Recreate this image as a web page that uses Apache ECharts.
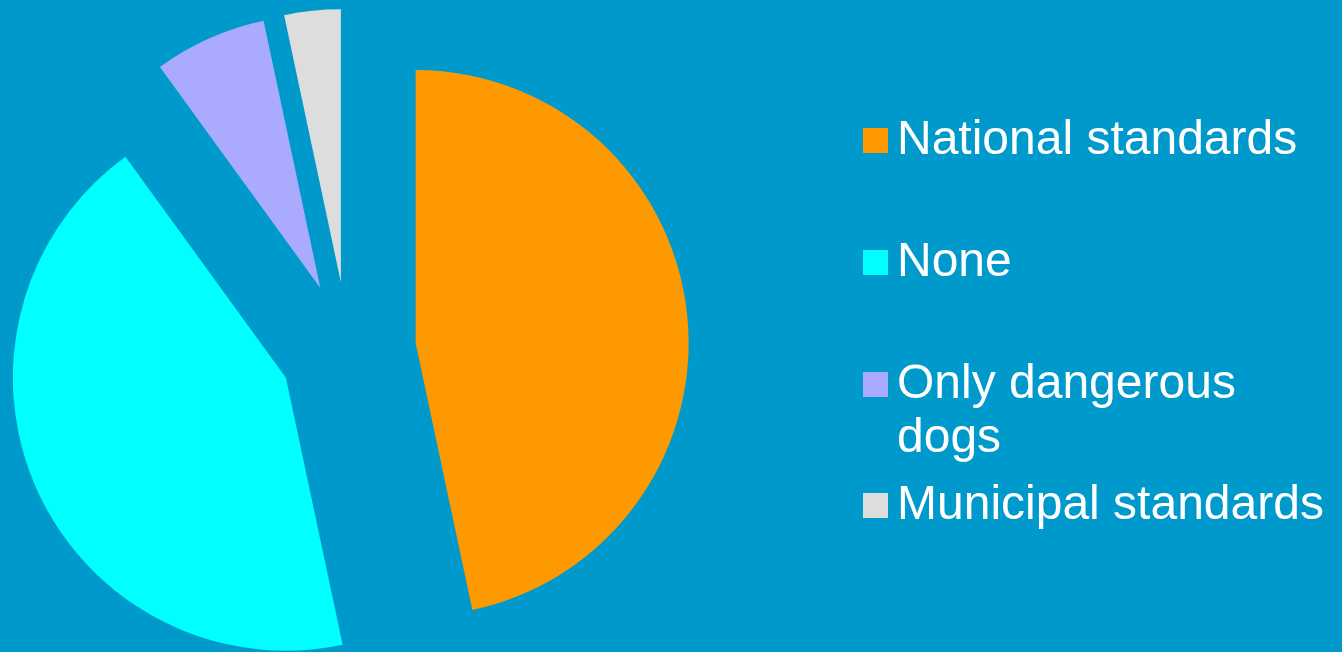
<!DOCTYPE html>
<html>
<head>
<meta charset="utf-8">
<script src="https://cdn.jsdelivr.net/npm/echarts@6/dist/echarts.min.js"></script>
<style>
html,body{margin:0;padding:0;background:#0099CC;}
#chart{width:1342px;height:652px;}
</style>
</head>
<body>
<div id="chart"></div>
<script>
var categories = ['National standards', 'None', 'Only dangerous dogs', 'Municipal standards'];
var values = [14, 13, 2, 1];
var legendLines = [['National standards'], ['None'], ['Only dangerous', 'dogs'], ['Municipal standards']];

var palette = ['#FF9900', '#00FFFF', '#AAAAFF', '#DDDDDD'];
var legendCenters = [140.5, 262.5, 384.5, 505.5];
var LH = 54;

var chart = echarts.init(document.getElementById('chart'));

var legends = categories.map(function (name, i) {
  var lines = legendLines[i];
  var twoLine = lines.length > 1;
  var text = lines.join('\n');
  if (twoLine) { text = ' \n' + text; }
  return {
    show: true,
    orient: 'vertical',
    left: 863,
    top: twoLine ? legendCenters[i] - LH * 1.5 : legendCenters[i] - LH / 2,
    padding: 0,
    itemWidth: 29,
    itemHeight: 25,
    icon: 'path://M0,0L25,0L25,25L0,25Z M29,0L29,0.01',
    selectedMode: false,
    data: [name],
    formatter: function () { return text; },
    textStyle: {
      color: '#FFFFFF',
      fontFamily: 'Liberation Sans, Arial, sans-serif',
      fontSize: 48,
      lineHeight: LH
    }
  };
});

var option = {
  backgroundColor: '#0099CC',
  animation: false,
  legend: legends,
  series: [{
    type: 'pie',
    center: [348, 350],
    radius: 273,
    startAngle: 90,
    clockwise: true,
    selectedMode: 'multiple',
    selectedOffset: 68,
    label: { show: false },
    labelLine: { show: false },
    emphasis: { disabled: true, scale: false },
    itemStyle: { borderWidth: 0 },
    data: categories.map(function (name, i) {
      return {
        name: name,
        value: values[i],
        selected: true,
        itemStyle: { color: palette[i], borderWidth: 0 },
        select: { itemStyle: { color: palette[i], borderWidth: 0 } }
      };
    })
  }]
};
chart.setOption(option);
</script>
</body>
</html>
